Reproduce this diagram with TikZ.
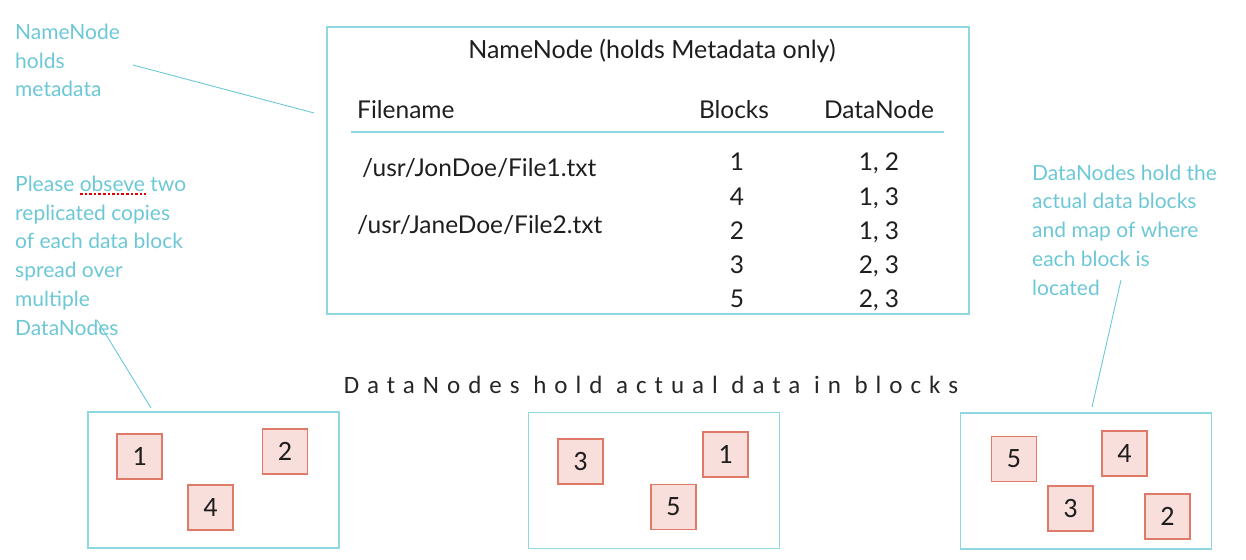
\documentclass[tikz,border=0pt]{standalone}
\usepackage{fontspec}
\setmainfont{Lato}
\newfontfamily\blockfont{Carlito}
\usetikzlibrary{positioning}
\definecolor{notecyan}{HTML}{6CC8D6}
\definecolor{boxcyan}{HTML}{8FD8E2}
\definecolor{blockred}{HTML}{E07A68}
\definecolor{blockpink}{HTML}{F8DFDB}
\definecolor{textdark}{HTML}{1E1E1E}
\tikzset{
  note/.style={notecyan, font=\fontsize{21}{28.7}\selectfont, align=left, anchor=base west, inner sep=0pt},
  cell/.style={textdark, font=\fontsize{24.5}{28}\selectfont, anchor=base, inner sep=0pt},
  nodebox/.style={draw=boxcyan, line width=1.1pt, minimum width=251pt, minimum height=136pt},
  datablock/.style={draw=blockred, fill=blockpink, line width=1.1pt, minimum size=45pt, inner sep=0pt, text=textdark, font=\blockfont\fontsize{28}{30}\selectfont},
  pointer/.style={notecyan, line width=0.9pt},
}
\begin{document}
\begin{tikzpicture}[x=1pt, y=-1pt]
  \useasboundingbox (0,0) rectangle (1246,559);
  % NameNode table
  \node[draw=boxcyan, line width=1.1pt, minimum width=642pt, minimum height=287pt] (nnbox) at (648,170.5) {};
  \node[cell, font=\fontsize{25}{28}\selectfont] (nntitle) at (652,59) {NameNode (holds Metadata only)};
  \node[cell, anchor=base west] (hdrfile) at (357,118) {Filename};
  \node[cell] (hdrblocks) at (734,118) {Blocks};
  \node[cell] (hdrdn) at (879,118) {DataNode};
  \draw[boxcyan, line width=1.6pt] (351,132) -- (944,132);
  \node[cell, anchor=base west] (file1) at (362,176) {/usr/JonDoe/File1.txt};
  \node[cell, anchor=base west] (file2) at (357,233) {/usr/JaneDoe/File2.txt};
  \node[cell] (blk1) at (737,170) {1};
  \node[cell] (blk4) at (737,205) {4};
  \node[cell] (blk2) at (737,239) {2};
  \node[cell] (blk3) at (737,273) {3};
  \node[cell] (blk5) at (737,307) {5};
  \node[cell] (dn1) at (879,170) {1, 2};
  \node[cell] (dn4) at (879,205) {1, 3};
  \node[cell] (dn2) at (879,239) {1, 3};
  \node[cell] (dn3) at (879,273) {2, 3};
  \node[cell] (dn5) at (879,307) {2, 3};

  % notes (anchored at the last line)
  \node[note] (nnnote) at (15,97) {NameNode\\holds\\metadata};
  \node[note] (repnote) at (15,335) {Please obseve two\\replicated copies\\of each data block\\spread over\\multiple\\DataNodes};
  \draw[red!90!black, dash pattern=on 2.6pt off 2pt, line width=2.6pt] (80,194) -- (146,194);
  \node[note] (dnnote) at (1032,295) {DataNodes hold the\\actual data blocks\\and map of where\\each block is\\located};

  \node[cell, text=black!85, font=\blockfont\fontsize{25}{28}\selectfont\addfontfeature{LetterSpace=32}] (caption) at (651,393) {DataNodes hold actual data in blocks};

  % DataNodes
  \node[nodebox] (dnode1) at (213.5,480) {};
  \node[nodebox] (dnode2) at (654,480.5) {};
  \node[nodebox] (dnode3) at (1086,481) {};
  \node[datablock] (a1) at (139.5,456.5) {1};
  \node[datablock] (a2) at (285,451.5) {2};
  \node[datablock] (a4) at (210.5,507.5) {4};
  \node[datablock] (b3) at (580.5,461.5) {3};
  \node[datablock] (b1) at (725.5,454.5) {1};
  \node[datablock] (b5) at (673.5,507) {5};
  \node[datablock] (c5) at (1014,459) {5};
  \node[datablock] (c4) at (1124.5,453.5) {4};
  \node[datablock] (c3) at (1070.5,508.5) {3};
  \node[datablock] (c2) at (1167.5,516.5) {2};

  % pointers
  \coordinate (nnnote-tip) at (133,65);
  \coordinate (nnbox-tip) at (314,113);
  \coordinate (repnote-tip) at (97,320);
  \coordinate (dnode1-tip) at (151,408);
  \coordinate (dnnote-tip) at (1121,280);
  \coordinate (dnode3-tip) at (1092,407);
  \draw[pointer] (nnnote-tip) -- (nnbox-tip);
  \draw[pointer] (repnote-tip) -- (dnode1-tip);
  \draw[pointer] (dnnote-tip) -- (dnode3-tip);
\end{tikzpicture}
\end{document}
